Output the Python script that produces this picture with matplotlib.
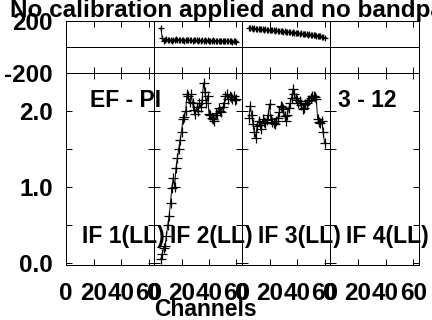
import numpy as np
import matplotlib
matplotlib.use('Agg')
import matplotlib.pyplot as plt

plt.rcParams['font.family'] = ['Liberation Sans', 'DejaVu Sans']
plt.rcParams['font.weight'] = 'bold'

W, H = 432, 320
fontSize = 16.5
tickSize = 17.5
lw = 0.72

title = 'No calibration applied and no bandpass applied'
baseline = 'EF - PI'
timeRange = '3 - 12'
ifLabels = ['IF 1(LL)', 'IF 2(LL)', 'IF 3(LL)', 'IF 4(LL)']

channels = np.arange(5, 61)

# amplitude per channel, IF 2 and IF 3 (IF 1 and IF 4 are empty)
ampIF2 = [0.05, 0.12, 0.20, 0.22, 0.35, 0.50, 0.62, 0.79, 0.99, 1.12,
          1.00, 1.25, 1.38, 1.50, 1.62, 1.72, 1.89, 1.92,
          2.00, 2.22, 2.20, 2.12, 2.22, 2.10, 2.01, 1.96, 2.05, 2.00,
          2.10, 2.05, 2.15, 2.37, 2.25, 2.10, 2.20, 1.96, 1.95, 1.91,
          1.90, 1.87, 1.97, 1.95, 2.04, 2.00, 1.98, 2.05, 2.10, 2.20,
          2.22, 2.16, 2.20, 2.18, 2.16, 2.20, 2.15, 2.16]
ampIF3 = [1.91, 2.07, 1.95, 1.83, 1.72, 1.64, 1.80, 1.87, 1.82, 1.76,
          1.89, 1.85, 1.84, 1.88, 1.95, 2.09, 1.89, 1.86, 1.84, 1.83,
          1.87, 1.91, 1.98, 2.07, 2.05, 2.03, 1.93, 1.87, 1.95, 2.04,
          2.10, 2.17, 2.29, 2.22, 2.17, 2.14, 2.10, 2.13, 2.08, 2.03,
          2.04, 2.09, 2.11, 2.13, 2.15, 2.17, 2.20, 2.20, 2.18, 2.16,
          1.89, 1.86, 1.84, 1.87, 1.72, 1.58]

# phase in degrees
phaseIF2 = [146, 69, 43, 55, 58, 52, 57, 54, 50, 56,
            53, 58, 51, 55, 52, 54, 57, 50, 53, 55,
            51, 54, 52, 49, 55, 51, 53, 50, 52, 48,
            54, 50, 51, 47, 52, 49, 50, 46, 51, 48,
            49, 45, 50, 47, 46, 48, 44, 47, 45, 43,
            46, 44, 42, 45, 43, 41]
phaseIF3 = [146, 143, 147, 141, 144, 139, 142, 137, 140, 135,
            138, 133, 136, 131, 134, 129, 132, 127, 129, 125,
            127, 123, 125, 120, 123, 118, 120, 116, 118, 113,
            115, 111, 113, 108, 110, 106, 108, 103, 105, 101,
            103, 98, 100, 96, 97, 93, 94, 90, 91, 87,
            88, 84, 85, 80, 77, 70]

amps = [None, ampIF2, ampIF3, None]
phases = [None, phaseIF2, phaseIF3, None]

xTicks = [0, 20, 40, 60]
ampTicks = [0, 0.5, 1.0, 1.5, 2.0]
ampTickLabels = ['0.0', '', '1.0', '', '2.0']

panelLeft = [66, 154, 242, 330]
panelWidth = [88, 88, 88, 89]
phaseTop, phaseBottom = 21, 73
ampBottom = 265


def rect(left, top, width, height):
    return [left / W, 1 - (top + height) / H, width / W, height / H]


def styleAxes(ax):
    for s in ax.spines.values():
        s.set_linewidth(lw)
        s.set_color('k')
    ax.tick_params(direction='in', top=True, right=True, length=4,
                   width=lw, labelsize=tickSize, pad=9.5)
    ax.set_xlim(0, 64)
    ax.set_xticks(xTicks)


def plotData(ax, ys, ms):
    ax.plot(channels, ys, color='k', lw=0.7, marker='+', ms=ms, mew=0.9)


fig = plt.figure(figsize=(W / 100, H / 100), dpi=100)

for i in range(4):
    # phase panel
    axp = fig.add_axes(rect(panelLeft[i], phaseTop, panelWidth[i],
                            phaseBottom - phaseTop))
    styleAxes(axp)
    axp.set_ylim(-200, 200)
    axp.axhline(0, color='k', lw=lw)
    axp.set_yticks([-200, 200])
    axp.set_xticklabels([])
    if i == 0:
        axp.set_yticklabels(['-200', '200'])
    else:
        axp.set_yticklabels([])
    if phases[i] is not None:
        plotData(axp, phases[i], 5)

    # amplitude panel
    axa = fig.add_axes(rect(panelLeft[i], phaseBottom, panelWidth[i],
                            ampBottom - phaseBottom))
    styleAxes(axa)
    axa.set_ylim(-0.03, 2.5)
    axa.set_yticks(ampTicks)
    axa.tick_params(axis='x', pad=12)
    axa.set_xticklabels([str(t) for t in xTicks])
    if i == 0:
        axa.set_yticklabels(ampTickLabels)
    else:
        axa.set_yticklabels([])
    if amps[i] is not None:
        plotData(axa, amps[i], 7)

    fig.text((panelLeft[i] + 16) / W, 1 - 243 / H, ifLabels[i],
             fontsize=fontSize, ha='left', va='baseline')

fig.text(10 / W, 1 - 17 / H, title, fontsize=17.5, ha='left', va='baseline')
fig.text(90 / W, 1 - 107 / H, baseline, fontsize=fontSize, ha='left',
         va='baseline')
fig.text(338 / W, 1 - 107 / H, timeRange, fontsize=fontSize, ha='left',
         va='baseline')
fig.text(205 / W, 1 - 316 / H, 'Channels', fontsize=fontSize, ha='center',
         va='baseline')

fig.savefig('out.png', dpi=100)
